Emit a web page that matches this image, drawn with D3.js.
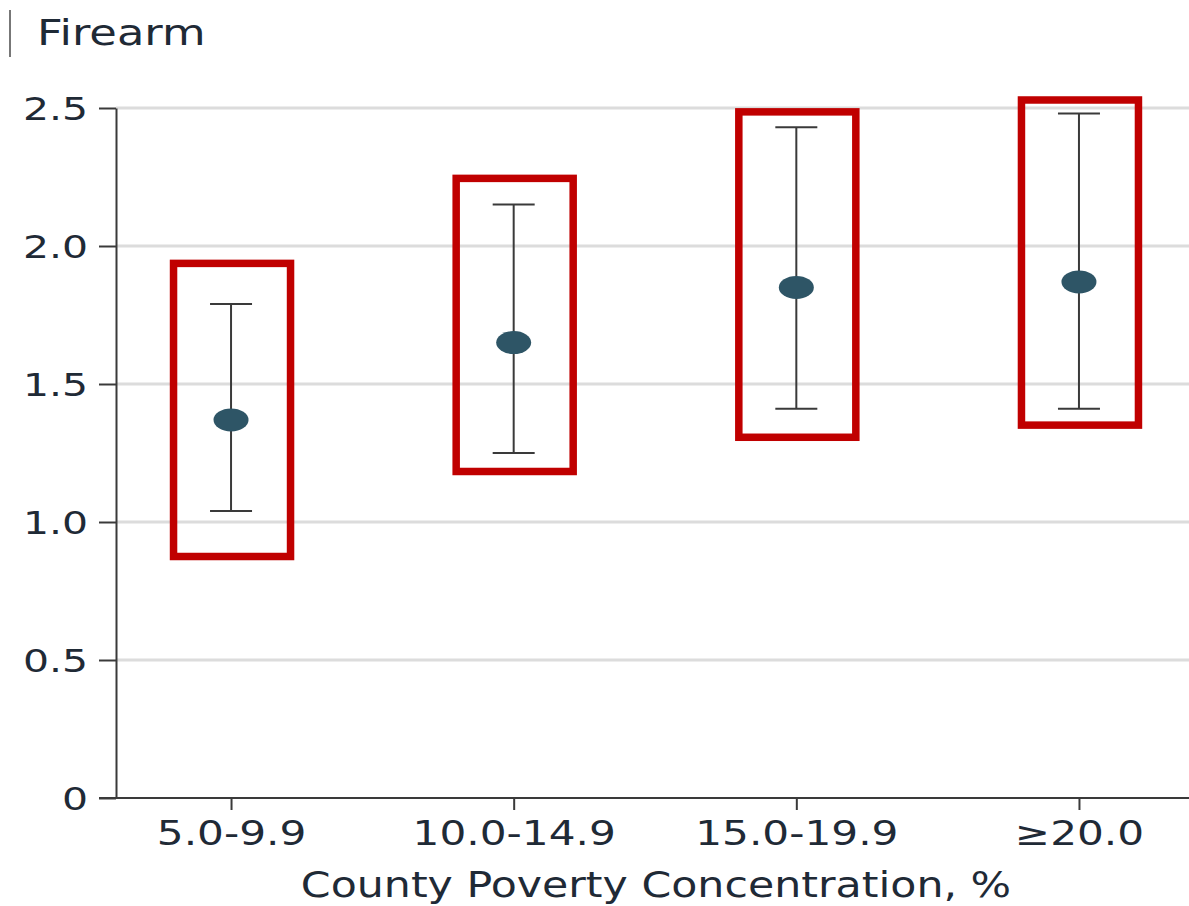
<!DOCTYPE html>
<html>
<head>
<meta charset="utf-8">
<script src="https://d3js.org/d3.v7.min.js"></script>
<style>
  html, body { margin: 0; padding: 0; background: #fff; }
  svg { display: block; }
  text { font-family: "DejaVu Sans", sans-serif; fill: #1f2a36; }
</style>
</head>
<body>
<script>
// ---- data ----
const categories = ["5.0-9.9", "10.0-14.9", "15.0-19.9", "\u226520.0"];
const estimates  = [1.37, 1.65, 1.85, 1.87];
const lowerCI    = [1.04, 1.25, 1.41, 1.41];
const upperCI    = [1.79, 2.15, 2.43, 2.48];
// highlight boxes (value range covered by each red annotation box)
const boxTop     = [1.937, 2.245, 2.486, 2.529];
const boxBottom  = [0.875, 1.183, 1.307, 1.351];
const yTicks     = [0, 0.5, 1.0, 1.5, 2.0, 2.5];
const yTickLabels = ["0", "0.5", "1.0", "1.5", "2.0", "2.5"];
const panelTitle = "Firearm";
const xTitle = "County Poverty Concentration, %";

// ---- layout ----
const W = 1189, H = 906;
const mLeft = 116, mRight = 1194, mTop = 108, mBottom = 798;
const SX = 1.28; // horizontal text stretch seen in the reference

const svg = d3.select("body").append("svg").attr("width", W).attr("height", H);

const x = d3.scalePoint().domain(categories).range([mLeft, mRight]).padding(0.407);
const y = d3.scaleLinear().domain([0, 2.5]).range([mBottom, mTop]);

// gridlines
svg.append("g").selectAll("line").data(yTicks.filter(d => d > 0)).join("line")
  .attr("x1", mLeft).attr("x2", W)
  .attr("y1", d => y(d)).attr("y2", d => y(d))
  .attr("stroke", "#dcdcdc").attr("stroke-width", 3);

// y axis
const yAxis = d3.axisLeft(y).tickValues(yTicks)
  .tickFormat((d, i) => yTickLabels[i]).tickSize(17).tickSizeOuter(0).tickPadding(11);
const gy = svg.append("g").attr("transform", `translate(${mLeft},0)`).call(yAxis);
gy.select(".domain").attr("stroke", "#3a3a3a").attr("stroke-width", 2);
gy.selectAll(".tick line").attr("stroke", "#3a3a3a").attr("stroke-width", 2);
gy.selectAll(".tick text").attr("font-size", 32).attr("fill", "#1f2a36")
  .attr("font-family", "DejaVu Sans, sans-serif").attr("dy", "0.36em")
  .attr("x", -28 / SX).attr("transform", `scale(${SX},1)`);

// x axis
const xAxis = d3.axisBottom(x).tickSize(12).tickSizeOuter(0).tickPadding(12);
const gx = svg.append("g").attr("transform", `translate(0,${mBottom})`).call(xAxis);
gx.select(".domain").attr("d", `M${mLeft - 17},0H${W}`)
  .attr("stroke", "#3a3a3a").attr("stroke-width", 2);
gx.selectAll(".tick line").attr("stroke", "#3a3a3a").attr("stroke-width", 2);
gx.selectAll(".tick text").attr("font-size", 33).attr("fill", "#1f2a36")
  .attr("font-family", "DejaVu Sans, sans-serif").attr("dy", "0.70em")
  .attr("transform", `scale(${SX},1)`);

// error bars
const g = svg.append("g");
categories.forEach((c, i) => {
  const cx = x(c);
  g.append("line").attr("x1", cx).attr("x2", cx)
    .attr("y1", y(upperCI[i])).attr("y2", y(lowerCI[i]))
    .attr("stroke", "#3a3a3a").attr("stroke-width", 2);
  [upperCI[i], lowerCI[i]].forEach(v => {
    g.append("line").attr("x1", cx - 21).attr("x2", cx + 21)
      .attr("y1", y(v)).attr("y2", y(v))
      .attr("stroke", "#3a3a3a").attr("stroke-width", 2);
  });
  g.append("ellipse").attr("cx", cx).attr("cy", y(estimates[i]))
    .attr("rx", 17.5).attr("ry", 11.5).attr("fill", "#2e5566");
});

// red highlight boxes
svg.append("g").selectAll("rect").data(categories).join("rect")
  .attr("x", d => x(d) - 57.5)
  .attr("width", 117)
  .attr("y", (d, i) => y(boxTop[i]))
  .attr("height", (d, i) => y(boxBottom[i]) - y(boxTop[i]))
  .attr("fill", "none").attr("stroke", "#c00000").attr("stroke-width", 7.5);

// panel title
svg.append("line").attr("x1", 10).attr("x2", 10).attr("y1", 10).attr("y2", 57)
  .attr("stroke", "#777").attr("stroke-width", 2);
svg.append("text").attr("transform", `translate(37,45) scale(${SX},1)`)
  .attr("font-size", 35).attr("fill", "#1f2a36").text(panelTitle);

// x axis title
svg.append("text").attr("transform", `translate(656,897) scale(1.22,1)`)
  .attr("text-anchor", "middle")
  .attr("font-size", 35).attr("fill", "#1f2a36").text(xTitle);
</script>
</body>
</html>
